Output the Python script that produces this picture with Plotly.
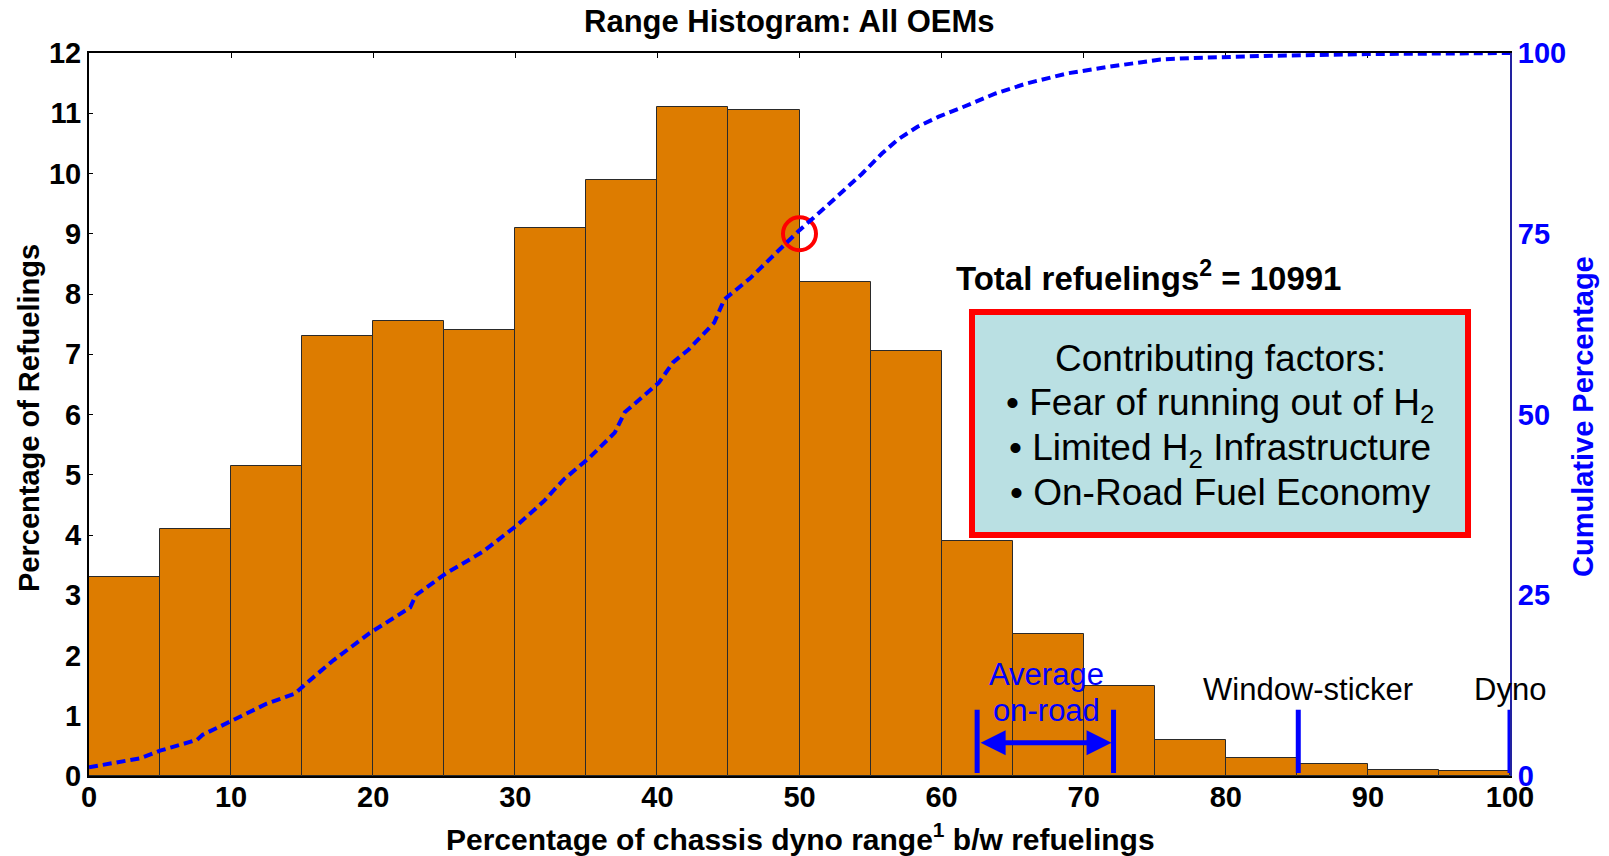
import plotly.graph_objects as go

# ---------------- data ----------------
bin_start = [0, 5, 10, 15, 20, 25, 30, 35, 40, 45, 50, 55, 60, 65, 70, 75, 80, 85, 90, 95]
bin_width = 5
pct_refuelings = [3.3, 4.1, 5.15, 7.3, 7.55, 7.4, 9.1, 9.9, 11.1, 11.05,
                  8.2, 7.05, 3.9, 2.35, 1.5, 0.6, 0.3, 0.2, 0.1, 0.08]

cum_x = [0, 3.6, 5.0, 7.6, 8.0, 8.7, 9.9, 12.5, 14.5, 15.4, 17.2, 19.7, 22.6, 23.0,
         25.1, 27.7, 30.2, 32.0, 33.4, 35.2, 37.0, 37.7, 40.1, 41.1, 42.2, 44.0,
         44.7, 46.5, 48.0, 49.1, 50.0, 51.5, 52.7, 54.4, 55.8, 56.9, 58.3, 59.8,
         61.6, 63.8, 66.0, 68.9, 71.8, 75.4, 77.6, 82.7, 89.9, 100]
cum_pct = [1.2, 2.45, 3.5, 5.0, 5.7, 6.4, 7.5, 10.0, 11.4, 13.0, 16.0, 19.7, 23.3, 25.0,
           28.0, 31.0, 34.8, 38.0, 41.0, 44.0, 47.5, 50.3, 54.4, 57.2, 59.0, 62.7,
           65.9, 68.8, 71.6, 73.7, 75.5, 78.1, 80.2, 83.3, 86.1, 88.0, 89.8, 91.2,
           92.6, 94.4, 95.8, 97.2, 98.1, 99.1, 99.3, 99.6, 99.85, 100]

highlight_x = [50]
highlight_y = [9]

avg_onroad_range = [62.5, 72.1]
window_sticker_x = 85.1
dyno_x = 100

x_ticks = [0, 10, 20, 30, 40, 50, 60, 70, 80, 90, 100]
y_ticks = [0, 1, 2, 3, 4, 5, 6, 7, 8, 9, 10, 11, 12]
y2_ticks = [0, 25, 50, 75, 100]

title_text = "Range Histogram: All OEMs"
total_text = "Total refuelings<sup>2</sup> = 10991"
factor_lines = ["Contributing factors:",
                "\u2022 Fear of running out of H<sub>2</sub>",
                "\u2022 Limited H<sub>2</sub> Infrastructure",
                "\u2022 On-Road Fuel Economy"]

# ---------------- figure ----------------
FONT = "Liberation Sans, Arial, Helvetica, sans-serif"
BLUE = "#0000FF"
W, H = 1609, 856
L, R, T, B = 89, 99, 53, 80
PW, PH = W - L - R, H - T - B


def px_x(px):
    return (px - L) / PW


def px_y(py):
    return (H - B - py) / PH


fig = go.Figure()

fig.add_trace(go.Bar(
    x=bin_start, y=pct_refuelings, width=bin_width, offset=0,
    marker=dict(color="#DD7C00", line=dict(color="#2a2a2a", width=1)),
    showlegend=False, hoverinfo="skip"))

fig.add_trace(go.Scatter(
    x=cum_x, y=cum_pct, yaxis="y2", mode="lines",
    line=dict(color=BLUE, width=4, dash="9px,5px"),
    showlegend=False, hoverinfo="skip"))

fig.add_trace(go.Scatter(
    x=highlight_x, y=highlight_y, mode="markers",
    marker=dict(symbol="circle-open", size=33, color="#FF0000",
                line=dict(color="#FF0000", width=4)),
    showlegend=False, hoverinfo="skip"))

shapes = []
for xv in avg_onroad_range + [window_sticker_x, dyno_x]:
    shapes.append(dict(type="line", xref="x", yref="y", x0=xv, x1=xv, y0=0.05, y1=1.1,
                       line=dict(color=BLUE, width=5), layer="above"))
shapes.append(dict(type="rect", xref="paper", yref="paper",
                   x0=px_x(972), x1=px_x(1468), y0=px_y(535), y1=px_y(312),
                   fillcolor="#BAE0E3", line=dict(color="#FF0000", width=6), layer="above"))

annotations = []
annotations.append(dict(text="<b>" + title_text + "</b>", xref="paper", yref="paper",
                        x=px_x(789), y=px_y(22), showarrow=False,
                        font=dict(family=FONT, size=31, color="black"),
                        xanchor="center", yanchor="middle"))
annotations.append(dict(text="<b>Percentage of Refuelings</b>", xref="paper", yref="paper",
                        x=px_x(29), y=px_y(418), showarrow=False, textangle=-90,
                        font=dict(family=FONT, size=29, color="black"),
                        xanchor="center", yanchor="middle"))
annotations.append(dict(text="<b>Cumulative Percentage</b>", xref="paper", yref="paper",
                        x=px_x(1583), y=px_y(417), showarrow=False, textangle=-90,
                        font=dict(family=FONT, size=29, color=BLUE),
                        xanchor="center", yanchor="middle"))
annotations.append(dict(text="<b>Percentage of chassis dyno range<sup>1</sup> b/w refuelings</b>",
                        xref="paper", yref="paper",
                        x=px_x(800), y=px_y(837), showarrow=False,
                        font=dict(family=FONT, size=30, color="black"),
                        xanchor="center", yanchor="middle"))
annotations.append(dict(text="<b>" + total_text + "</b>", xref="paper", yref="paper",
                        x=px_x(1148), y=px_y(276), showarrow=False,
                        font=dict(family=FONT, size=33, color="black"),
                        xanchor="center", yanchor="middle"))
for line_text, ymid in zip(factor_lines, [358.5, 405, 450, 492.5]):
    annotations.append(dict(text=line_text, xref="paper", yref="paper",
                            x=px_x(1220), y=px_y(ymid), showarrow=False,
                            font=dict(family=FONT, size=37, color="black"),
                            xanchor="center", yanchor="middle"))
annotations.append(dict(text="Average", xref="x", yref="y", x=67.4, y=1.69, showarrow=False,
                        font=dict(family=FONT, size=31, color=BLUE),
                        xanchor="center", yanchor="middle"))
annotations.append(dict(text="on-road", xref="x", yref="y", x=67.4, y=1.08, showarrow=False,
                        font=dict(family=FONT, size=31, color=BLUE),
                        xanchor="center", yanchor="middle"))
annotations.append(dict(text="Window-sticker", xref="x", yref="y", x=85.8, y=1.44, showarrow=False,
                        font=dict(family=FONT, size=31, color="black"),
                        xanchor="center", yanchor="middle"))
annotations.append(dict(text="Dyno", xref="x", yref="y", x=dyno_x, y=1.44, showarrow=False,
                        font=dict(family=FONT, size=31, color="black"),
                        xanchor="center", yanchor="middle"))
annotations.append(dict(text="", xref="x", yref="y", axref="x", ayref="y",
                        x=avg_onroad_range[1], y=0.55, ax=avg_onroad_range[0], ay=0.55,
                        showarrow=True, arrowside="end+start", arrowhead=2, arrowsize=1.0,
                        arrowwidth=5, arrowcolor=BLUE, standoff=2, startstandoff=2,
                        startarrowhead=2, startarrowsize=1.0))

fig.update_layout(
    width=W, height=H,
    margin=dict(l=L, r=R, t=T, b=B, autoexpand=False),
    paper_bgcolor="white", plot_bgcolor="white",
    font=dict(family=FONT, color="black"),
    shapes=shapes, annotations=annotations,
    xaxis=dict(range=[0, 100], tickvals=x_ticks, ticks="inside", ticklen=5,
               tickcolor="black", showline=True, linecolor="black", linewidth=2,
               mirror="ticks", showgrid=False, zeroline=False, layer="below traces",
               tickfont=dict(family=FONT, size=29, color="black", weight="bold"),
               ticklabelstandoff=-6),
    yaxis=dict(range=[0, 12], tickvals=y_ticks, ticks="inside", ticklen=4,
               tickcolor="black", showline=True,
               linecolor="black", linewidth=2, showgrid=False, zeroline=False,
               tickfont=dict(family=FONT, size=29, color="black", weight="bold"),
               layer="below traces"),
    yaxis2=dict(range=[0, 100], tickvals=y2_ticks, overlaying="y", side="right",
                ticks="", showline=True, linecolor="#2222A0", linewidth=2,
                showgrid=False, zeroline=False,
                tickfont=dict(family=FONT, size=29, color=BLUE, weight="bold")),
    bargap=0,
)

fig.write_html("out.html", config={"displayModeBar": False},
               post_script="document.body.style.margin='0px';")
